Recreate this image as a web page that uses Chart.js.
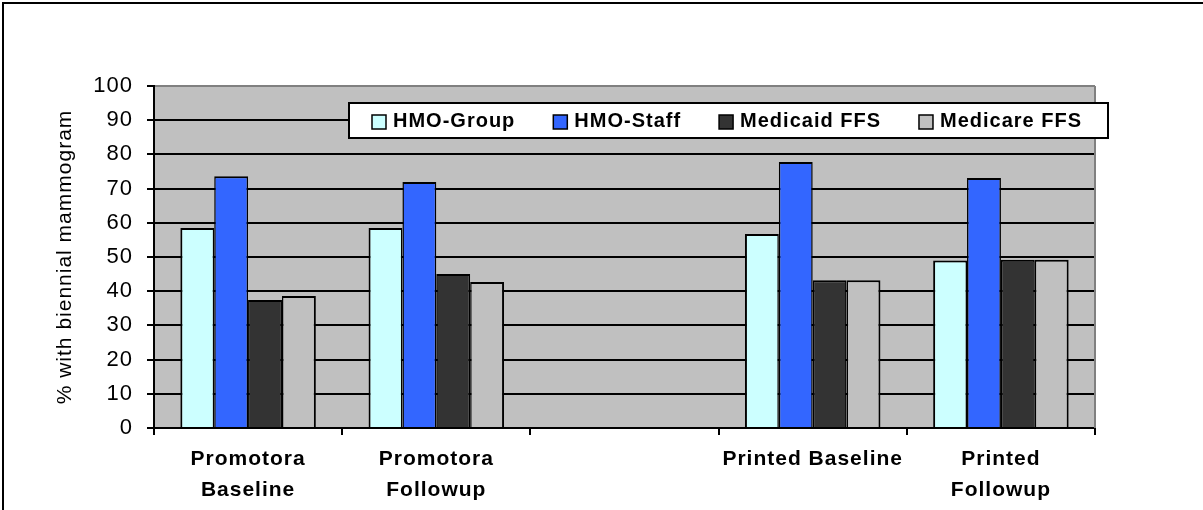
<!DOCTYPE html>
<html lang="en">
<head>
  <meta charset="UTF-8">
  <title>Biennial mammogram by plan type</title>
  <script src="https://cdn.jsdelivr.net/npm/chart.js"></script>
  <style>
    html, body { margin: 0; padding: 0; background: #fff; }
    #wrap { width: 1203px; height: 510px; }
  </style>
</head>
<body>
  <div id="wrap"><canvas id="mychart" width="1203" height="510"></canvas></div>
  <script>
    // categories (third slot is an intentional gap)
    const categories = [
      ['Promotora', 'Baseline'],
      ['Promotora', 'Followup'],
      '',
      'Printed Baseline',
      ['Printed', 'Followup']
    ];
    const seriesNames = ['HMO-Group', 'HMO-Staff', 'Medicaid FFS', 'Medicare FFS'];
    const hmoGroup    = [58.5, 58.5, null, 56.7, 49.0];
    const hmoStaff    = [73.6, 71.9, null, 77.8, 73.1];
    const medicaidFfs = [37.4, 45.0, null, 43.2, 49.2];
    const medicareFfs = [38.6, 42.7, null, 43.2, 49.2];
    const yTicks = [0, 10, 20, 30, 40, 50, 60, 70, 80, 90, 100];

    const colors = ['#CCFFFF', '#3366FF', '#333333', '#C0C0C0'];
    const seriesValues = [hmoGroup, hmoStaff, medicaidFfs, medicareFfs];

    const datasets = seriesValues.map((vals, i) => ({
      label: seriesNames[i],
      data: vals,
      backgroundColor: colors[i],
      borderColor: '#000',
      borderWidth: { top: 2, left: i === 0 ? 2 : 1.5, right: i === 3 ? 2 : 1.5, bottom: 0 },
      borderSkipped: 'start',
      barPercentage: 1,
      categoryPercentage: 0.72
    }));

    // grey plot area, outer frame, letter spacing for all text
    const frame = {
      id: 'frame',
      beforeDraw(chart) {
        const { ctx, chartArea: a } = chart;
        ctx.letterSpacing = '1px';
        ctx.save();
        ctx.fillStyle = '#C0C0C0';
        ctx.fillRect(a.left, a.top, a.right - a.left, a.bottom - a.top);
        ctx.strokeStyle = '#000';
        ctx.lineWidth = 2;
        ctx.strokeRect(3, 3, 1400, 700);
        ctx.restore();
      },
      afterDatasetsDraw(chart) {
        const { ctx, chartArea: a } = chart;
        ctx.save();
        ctx.strokeStyle = '#808080';
        ctx.lineWidth = 2;
        ctx.beginPath();
        ctx.moveTo(a.right, a.top);
        ctx.lineTo(a.right, a.bottom);
        ctx.stroke();
        ctx.restore();
      }
    };

    // boxed legend laid over the top of the plot
    const boxLegend = {
      id: 'boxLegend',
      afterDraw(chart) {
        const ctx = chart.ctx;
        ctx.save();
        ctx.fillStyle = '#fff';
        ctx.strokeStyle = '#000';
        ctx.lineWidth = 2;
        ctx.fillRect(349, 103, 759, 35);
        ctx.strokeRect(349, 103, 759, 35);
        ctx.font = 'bold 20px "Liberation Sans", Arial, sans-serif';
        ctx.textBaseline = 'middle';
        let x = 372;
        chart.data.datasets.forEach(ds => {
          ctx.fillStyle = ds.backgroundColor;
          ctx.fillRect(x, 115, 14, 14);
          ctx.lineWidth = 1.5;
          ctx.strokeRect(x, 115, 14, 14);
          ctx.fillStyle = '#000';
          ctx.fillText(ds.label, x + 21, 121);
          x += 21 + ctx.measureText(ds.label).width + 38;
        });
        ctx.restore();
      }
    };

    new Chart(document.getElementById('mychart'), {
      type: 'bar',
      data: { labels: categories, datasets: datasets },
      plugins: [frame, boxLegend],
      options: {
        responsive: false,
        animation: false,
        layout: { padding: { top: 86, right: 108, left: 0, bottom: 0 } },
        plugins: { legend: { display: false }, tooltip: { enabled: false } },
        scales: {
          x: {
            afterFit(scale) { scale.height = 82; },
            grid: { drawOnChartArea: false, tickLength: 7, color: '#000', lineWidth: 2 },
            border: { color: '#000', width: 2 },
            ticks: {
              autoSkip: false,
              maxRotation: 0,
              padding: 9,
              color: '#000',
              font: { family: '"Liberation Sans", Arial, sans-serif', size: 21, weight: 'bold', lineHeight: 1.48 }
            }
          },
          y: {
            min: 0,
            max: 100,
            afterFit(scale) { scale.width = 154; },
            afterBuildTicks(scale) { scale.ticks = yTicks.map(v => ({ value: v })); },
            grid: {
              color: c => (c.tick && c.tick.value === 100 ? '#808080' : '#000'),
              tickColor: '#000',
              lineWidth: 2,
              tickLength: 7
            },
            border: { color: '#000', width: 2 },
            ticks: {
              padding: 14,
              color: '#000',
              font: { family: '"Liberation Sans", Arial, sans-serif', size: 22 }
            },
            title: {
              display: true,
              text: '% with biennial mammogram',
              color: '#000',
              padding: { top: 53, bottom: 0 },
              font: { family: '"Liberation Sans", Arial, sans-serif', size: 21 }
            }
          }
        }
      }
    });
  </script>
</body>
</html>
